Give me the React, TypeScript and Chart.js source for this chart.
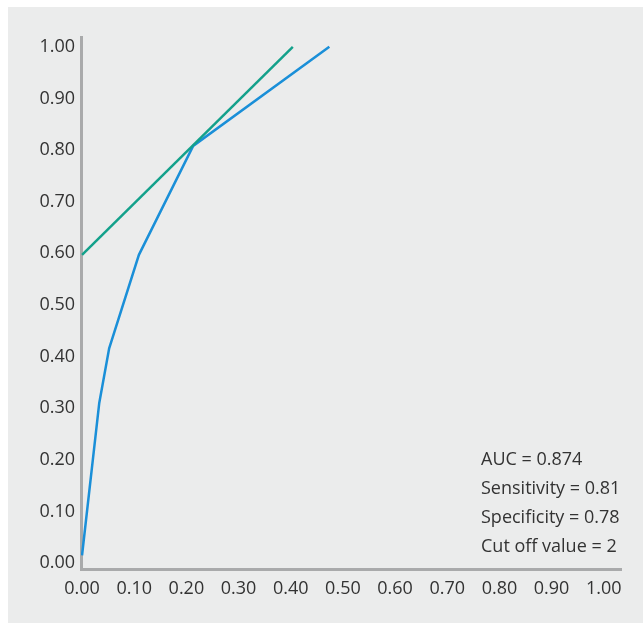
import React, { useEffect, useRef } from "react";
import { Chart, registerables } from "chart.js";

Chart.register(...registerables);

const blueX = [0, 0.033, 0.052, 0.109, 0.213, 0.474];
const blueY = [0.015, 0.31, 0.416, 0.597, 0.808, 1.0];
const greenX = [0, 0.404];
const greenY = [0.597, 1.0];
const tickValues = [0, 0.1, 0.2, 0.3, 0.4, 0.5, 0.6, 0.7, 0.8, 0.9, 1.0];
const annotationLines = [
  "AUC = 0.874",
  "Sensitivity = 0.81",
  "Specificity = 0.78",
  "Cut off value = 2",
];

const FONT = "'Open Sans', 'DejaVu Sans', sans-serif";
const TEXT_COLOR = "#333333";
const BG = "#ebecec";

export default function App() {
  const ref = useRef<HTMLCanvasElement | null>(null);

  useEffect(() => {
    if (!ref.current) return;
    const bgPlugin = {
      id: "bg",
      beforeDraw(chart: any) {
        const { ctx, width, height } = chart;
        ctx.save();
        ctx.fillStyle = BG;
        ctx.fillRect(0, 0, width, height);
        ctx.restore();
      },
    };
    const notePlugin = {
      id: "note",
      afterDraw(chart: any) {
        const { ctx } = chart;
        ctx.save();
        ctx.font = `18px ${FONT}`;
        ctx.fillStyle = TEXT_COLOR;
        ctx.textAlign = "left";
        ctx.textBaseline = "middle";
        annotationLines.forEach((t, i) => {
          ctx.fillText(t, 473, 453 + i * 29);
        });
        ctx.restore();
      },
    };
    const chart = new Chart(ref.current, {
      type: "line",
      data: {
        datasets: [
          {
            label: "green",
            data: greenX.map((x, i) => ({ x, y: greenY[i] })),
            borderColor: "#13a18b",
            borderWidth: 2.5,
            pointRadius: 0,
            tension: 0,
          },
          {
            label: "blue",
            data: blueX.map((x, i) => ({ x, y: blueY[i] })),
            borderColor: "#1a8fd8",
            borderWidth: 2.5,
            pointRadius: 0,
            tension: 0,
          },
        ],
      },
      options: {
        animation: false,
        responsive: false,
        devicePixelRatio: 1,
        layout: { padding: { left: 0, right: 22, top: 30, bottom: 0 } },
        plugins: {
          legend: { display: false },
          tooltip: { enabled: false },
          title: { display: false },
        },
        scales: {
          x: {
            type: "linear",
            min: -0.002,
            max: 1.033,
            grid: { display: false, drawTicks: false },
            border: { display: true, color: "#a9aaab", width: 3 },
            afterBuildTicks: (scale: any) => {
              scale.ticks = tickValues.map((v) => ({ value: v }));
            },
            afterFit: (scale: any) => {
              scale.height = 53.5;
            },
            ticks: {
              padding: 9,
              autoSkip: false,
              maxRotation: 0,
              color: TEXT_COLOR,
              font: { family: FONT, size: 18 },
              callback: (v: any) => Number(v).toFixed(2),
            },
          },
          y: {
            type: "linear",
            min: -0.0126,
            max: 1.019,
            grid: { display: false, drawTicks: false },
            border: { display: true, color: "#a9aaab", width: 3 },
            afterBuildTicks: (scale: any) => {
              scale.ticks = tickValues.map((v) => ({ value: v }));
            },
            afterFit: (scale: any) => {
              scale.width = 73;
            },
            ticks: {
              padding: 6,
              autoSkip: false,
              color: TEXT_COLOR,
              font: { family: FONT, size: 18 },
              callback: (v: any) => Number(v).toFixed(2),
            },
          },
        },
      },
      plugins: [bgPlugin, notePlugin],
    });
    return () => chart.destroy();
  }, []);

  return (
    <div style={{ position: "fixed", left: 8, top: 7, width: 635, height: 616 }}>
      <canvas ref={ref} width={635} height={616} style={{ display: "block" }} />
    </div>
  );
}
